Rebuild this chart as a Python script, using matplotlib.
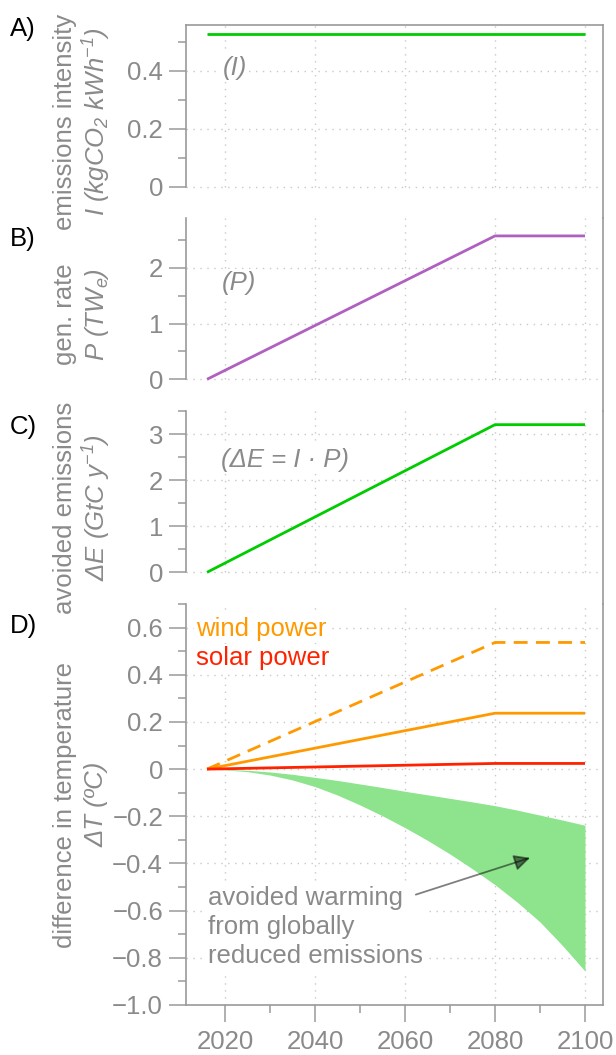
import matplotlib
matplotlib.use('Agg')
import matplotlib.pyplot as plt
import numpy as np

plt.rcParams['font.family'] = ['Liberation Sans', 'DejaVu Sans']
plt.rcParams['mathtext.fontset'] = 'custom'
plt.rcParams['mathtext.rm'] = 'Liberation Sans:italic'
plt.rcParams['mathtext.it'] = 'Liberation Sans:italic'
plt.rcParams['mathtext.sf'] = 'Liberation Sans:italic'

# ---------------- data ----------------
years = [2016, 2080, 2100]
intensity = [0.525, 0.525, 0.525]          # kgCO2 / kWh
gen_rate = [0.0, 2.57, 2.57]               # TWe
avoided = [0.0, 3.21, 3.21]                # GtC / y
wind_dashed = [0.0, 0.537, 0.537]          # degC
wind_solid = [0.0, 0.237, 0.237]
solar = [0.0, 0.024, 0.024]

band_years = [2016, 2020, 2025, 2030, 2035, 2040, 2045, 2050, 2055, 2060,
              2065, 2070, 2075, 2080, 2085, 2090, 2095, 2100]
band_upper = [0.0, -0.001, -0.005, -0.012, -0.022, -0.035, -0.048, -0.063, -0.078, -0.094,
              -0.109, -0.124, -0.139, -0.155, -0.174, -0.195, -0.216, -0.238]
band_lower = [0.0, -0.003, -0.011, -0.025, -0.046, -0.074, -0.110, -0.152, -0.198, -0.248,
              -0.302, -0.360, -0.423, -0.490, -0.565, -0.648, -0.748, -0.856]

x_major = [2020, 2040, 2060, 2080, 2100]
x_minor = [2030, 2050, 2070, 2090]
x_labels = ['2020', '2040', '2060', '2080', '2100']

yA_major = [0, 0.2, 0.4]; yA_labels = ['0', '0.2', '0.4']; yA_minor = [0.1, 0.3, 0.5]
yB_major = [0, 1, 2]; yB_labels = ['0', '1', '2']; yB_minor = [0.5, 1.5, 2.5]
yC_major = [0, 1, 2, 3]; yC_labels = ['0', '1', '2', '3']; yC_minor = [0.5, 1.5, 2.5, 3.5]
yD_major = [-1.0, -0.8, -0.6, -0.4, -0.2, 0, 0.2, 0.4, 0.6]
yD_labels = ['\u22121.0', '\u22120.8', '\u22120.6', '\u22120.4', '\u22120.2', '0', '0.2', '0.4', '0.6']
yD_minor = [-0.9, -0.7, -0.5, -0.3, -0.1, 0.1, 0.3, 0.5, 0.7]

# ---------------- styling ----------------
W, H = 616, 1055
GRAY = '#8a8a8a'
SPINE = '#9a9a9a'
GRID = '#c8c8c8'
GREEN = '#00cc00'
PURPLE = '#b060c0'
ORANGE = '#ff9900'
RED = '#ff2200'
FILL = '#8de48d'
FS = 18.5

fig = plt.figure(figsize=(W / 100, H / 100), dpi=100)
XLIM = (2011.33, 2104.0)

def make_axes(top, bottom):
    return fig.add_axes([186 / W, 1 - bottom / H, 417 / W, (bottom - top) / H])

tops = [25, 218, 411, 604]
bottoms = [218, 411, 604, 1005]
ylims = [(-0.108, 0.5576), (-0.568, 2.891), (-0.689, 3.507), (-1.0, 0.7)]
majors = [yA_major, yB_major, yC_major, yD_major]
labels = [yA_labels, yB_labels, yC_labels, yD_labels]
minors = [yA_minor, yB_minor, yC_minor, yD_minor]

axes = []
for i in range(4):
    ax = make_axes(tops[i], bottoms[i])
    ax.set_xlim(*XLIM)
    ax.set_ylim(*ylims[i])
    ax.set_facecolor('none')
    ax.set_yticks(majors[i])
    ax.set_yticklabels(labels[i])
    ax.set_yticks(minors[i], minor=True)
    ax.tick_params(axis='y', which='major', length=12.2, width=1.1, color=SPINE,
                   labelcolor=GRAY, labelsize=FS, pad=4.3)
    ax.tick_params(axis='y', which='minor', length=6.1, width=1.1, color=SPINE)
    for s in ax.spines.values():
        s.set_color(SPINE)
        s.set_linewidth(1.2)
    ax.spines['top'].set_visible(i == 0)
    ax.spines['bottom'].set_visible(i == 3)
    if i < 3:
        ax.spines['left'].set_bounds(0, ylims[i][1])
        ax.tick_params(axis='x', which='both', bottom=False, labelbottom=False)
        vlo = 0
    else:
        vlo = ylims[i][0]
        ax.set_xticks(x_major)
        ax.set_xticklabels(x_labels)
        ax.set_xticks(x_minor, minor=True)
        ax.tick_params(axis='x', which='major', length=12.2, width=1.1, color=SPINE,
                       labelcolor=GRAY, labelsize=FS, pad=5.5)
        ax.tick_params(axis='x', which='minor', length=6.1, width=1.1, color=SPINE)
    # grid
    ax.vlines(x_major, vlo, ylims[i][1], colors=GRID, linestyles=(0, (1, 4)), lw=1, zorder=0)
    for yv in majors[i]:
        if yv > ylims[i][0] + 1e-6:
            ax.axhline(yv, color=GRID, ls=(0, (1, 4)), lw=1, zorder=0)
    axes.append(ax)

axA, axB, axC, axD = axes

axA.plot(years, intensity, color=GREEN, lw=2.0, solid_capstyle='butt')
axB.plot(years, gen_rate, color=PURPLE, lw=2.0, solid_capstyle='butt')
axC.plot(years, avoided, color=GREEN, lw=2.0, solid_capstyle='butt')

axD.fill_between(band_years, band_lower, band_upper, color=FILL, lw=0, zorder=1)
axD.plot(years, wind_dashed, color=ORANGE, lw=2.0, ls=(0, (5, 3)), zorder=3)
axD.plot(years, wind_solid, color=ORANGE, lw=2.0, zorder=3, solid_capstyle='butt')
axD.plot(years, solar, color=RED, lw=2.0, zorder=3, solid_capstyle='butt')

bb = dict(facecolor='white', edgecolor='none', pad=1.5)
axA.text(2019.5, 0.409, '(I)', color=GRAY, fontsize=FS, style='italic', va='center', ha='left', bbox=bb)
axB.text(2019.2, 1.73, '(P)', color=GRAY, fontsize=FS, style='italic', va='center', ha='left', bbox=bb)
axC.text(2019.2, 2.44, '(\u0394E = I \u00b7 P)', color=GRAY, fontsize=FS, style='italic', va='center', ha='left', bbox=bb)
axD.text(2013.6, 0.596, 'wind power', color=ORANGE, fontsize=FS, va='center', ha='left', bbox=bb)
axD.text(2013.6, 0.469, 'solar power', color=RED, fontsize=FS, va='center', ha='left', bbox=bb)
axD.text(2016.3, -0.67, 'avoided warming\nfrom globally\nreduced emissions', color=GRAY, fontsize=FS,
         va='center', ha='left', linespacing=1.28, bbox=bb, zorder=2)
axD.annotate('', xy=(2087.8, -0.376), xytext=(2062.4, -0.532),
             arrowprops=dict(arrowstyle='-|>', color='black', alpha=0.5, lw=1.3,
                             mutation_scale=24, shrinkA=0, shrinkB=0), zorder=4)

# y labels (two lines each)
ylab1 = ['emissions intensity', 'gen. rate', 'avoided emissions', 'difference in temperature']
ylab2 = ['I (kgCO$_2$ kWh$^{-1}$)', 'P (TW$_e$)', '\u0394E (GtC y$^{-1}$)', '\u0394T (\u00baC)']
for i in range(4):
    yc = 1 - (tops[i] + bottoms[i]) / 2 / H
    fig.text(65 / W, yc, ylab1[i], rotation=90, ha='center', va='center', color=GRAY, fontsize=FS)
    fig.text(97 / W, yc, ylab2[i], rotation=90, ha='center', va='center', color=GRAY, fontsize=FS,
             style='italic')

# panel letters
for lab, yp in zip(['A)', 'B)', 'C)', 'D)'], [29, 239, 427, 626]):
    fig.text(10 / W, 1 - yp / H, lab, ha='left', va='center', color='black', fontsize=FS)

fig.savefig('out.png', dpi=100)
